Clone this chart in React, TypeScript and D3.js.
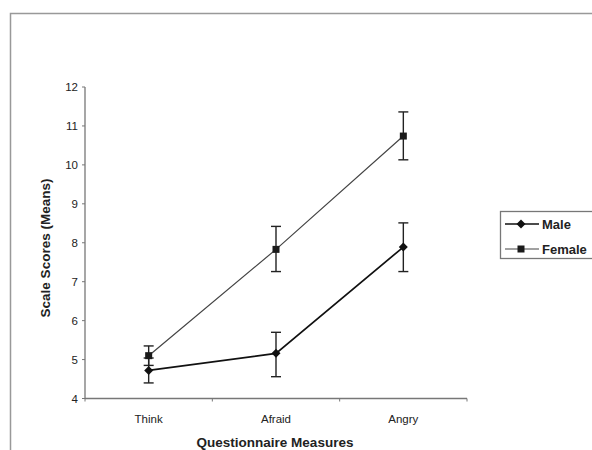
import React from "react";
import * as d3 from "d3";

const categories = ["Think", "Afraid", "Angry"];
const maleMeans = [4.72, 5.16, 7.89];
const maleLow = [4.4, 4.56, 7.26];
const maleHigh = [5.04, 5.7, 8.51];
const femaleMeans = [5.1, 7.83, 10.74];
const femaleLow = [4.85, 7.26, 10.13];
const femaleHigh = [5.35, 8.42, 11.36];
const yTicks = [4, 5, 6, 7, 8, 9, 10, 11, 12];

const W = 592;
const H = 450;
const font = "'Liberation Sans', Arial, sans-serif";

export default function App() {
  const x0 = 85;
  const x1 = 467;
  const x = d3.scaleBand().domain(categories).range([x0, x1]);
  const y = d3.scaleLinear().domain([4, 12]).range([398.5, 87]);
  const cx = (c: string) => (x(c) as number) + x.bandwidth() / 2;
  const line = d3
    .line<number>()
    .x((_, i) => cx(categories[i]))
    .y((v) => y(v));

  const series = [
    { name: "Male", means: maleMeans, low: maleLow, high: maleHigh, color: "#111", width: 1.7, marker: "diamond" },
    { name: "Female", means: femaleMeans, low: femaleLow, high: femaleHigh, color: "#444", width: 1.2, marker: "square" },
  ];

  const marker = (m: string, px: number, py: number, key: string) =>
    m === "diamond" ? (
      <path key={key} d={`M${px},${py - 4.5}L${px + 4.5},${py}L${px},${py + 4.5}L${px - 4.5},${py}Z`} fill="#111" />
    ) : (
      <rect key={key} x={px - 3.5} y={py - 3.5} width={7} height={7} fill="#1a1a1a" />
    );

  const xTickPos = [x0, ...categories.map((c) => (x(c) as number) + x.bandwidth())];

  return (
    <svg width={W} height={H} style={{ position: "absolute", left: 0, top: 0 }} fontFamily={font}>
      <rect x={0} y={0} width={W} height={H} fill="#fff" />
      <path d={`M10.5,${H}V13.5H${W}`} fill="none" stroke="#999" strokeWidth={1.5} />
      {/* axes */}
      <line x1={x0} x2={x0} y1={y(12)} y2={y(4)} stroke="#777" strokeWidth={1.3} />
      <line x1={x0} x2={x1} y1={y(4)} y2={y(4)} stroke="#777" strokeWidth={1.3} />
      {yTicks.map((t) => (
        <g key={t}>
          <line x1={x0 - 3} x2={x0} y1={y(t)} y2={y(t)} stroke="#777" />
          <text x={78} y={y(t)} dy="0.35em" textAnchor="end" fontSize={11.5} fill="#222">
            {t}
          </text>
        </g>
      ))}
      {xTickPos.map((p, i) => (
        <line key={i} x1={p} x2={p} y1={y(4)} y2={y(4) + 3} stroke="#777" />
      ))}
      {categories.map((c) => (
        <text key={c} x={cx(c)} y={423} textAnchor="middle" fontSize={11.5} fill="#222">
          {c}
        </text>
      ))}
      <text x={275} y={447} textAnchor="middle" fontSize={13.5} fontWeight="bold" fill="#222">
        Questionnaire Measures
      </text>
      <text
        transform={`translate(50,248) rotate(-90)`}
        textAnchor="middle"
        fontSize={13.5}
        fontWeight="bold"
        fill="#222"
      >
        Scale Scores (Means)
      </text>
      {/* series */}
      {series.map((s) => (
        <g key={s.name}>
          <path d={line(s.means) as string} fill="none" stroke={s.color} strokeWidth={s.width} />
          {s.means.map((v, i) => {
            const px = cx(categories[i]);
            return (
              <g key={i}>
                <line x1={px} x2={px} y1={y(s.low[i])} y2={y(s.high[i])} stroke="#222" strokeWidth={1.4} />
                <line x1={px - 5} x2={px + 5} y1={y(s.low[i])} y2={y(s.low[i])} stroke="#222" strokeWidth={1.4} />
                <line x1={px - 5} x2={px + 5} y1={y(s.high[i])} y2={y(s.high[i])} stroke="#222" strokeWidth={1.4} />
                {marker(s.marker, px, y(v), `m${i}`)}
              </g>
            );
          })}
        </g>
      ))}
      {/* legend */}
      <rect x={500.5} y={211.5} width={100} height={47} fill="#fff" stroke="#777" strokeWidth={1.3} />
      {series.map((s, i) => {
        const ly = 224 + i * 25;
        return (
          <g key={s.name}>
            <line x1={505} x2={539} y1={ly} y2={ly} stroke={s.color} strokeWidth={s.width} />
            {marker(s.marker, 521, ly, "lm")}
            <text x={542} y={ly} dy="0.36em" fontSize={13} fontWeight="bold" fill="#222">
              {s.name}
            </text>
          </g>
        );
      })}
    </svg>
  );
}
